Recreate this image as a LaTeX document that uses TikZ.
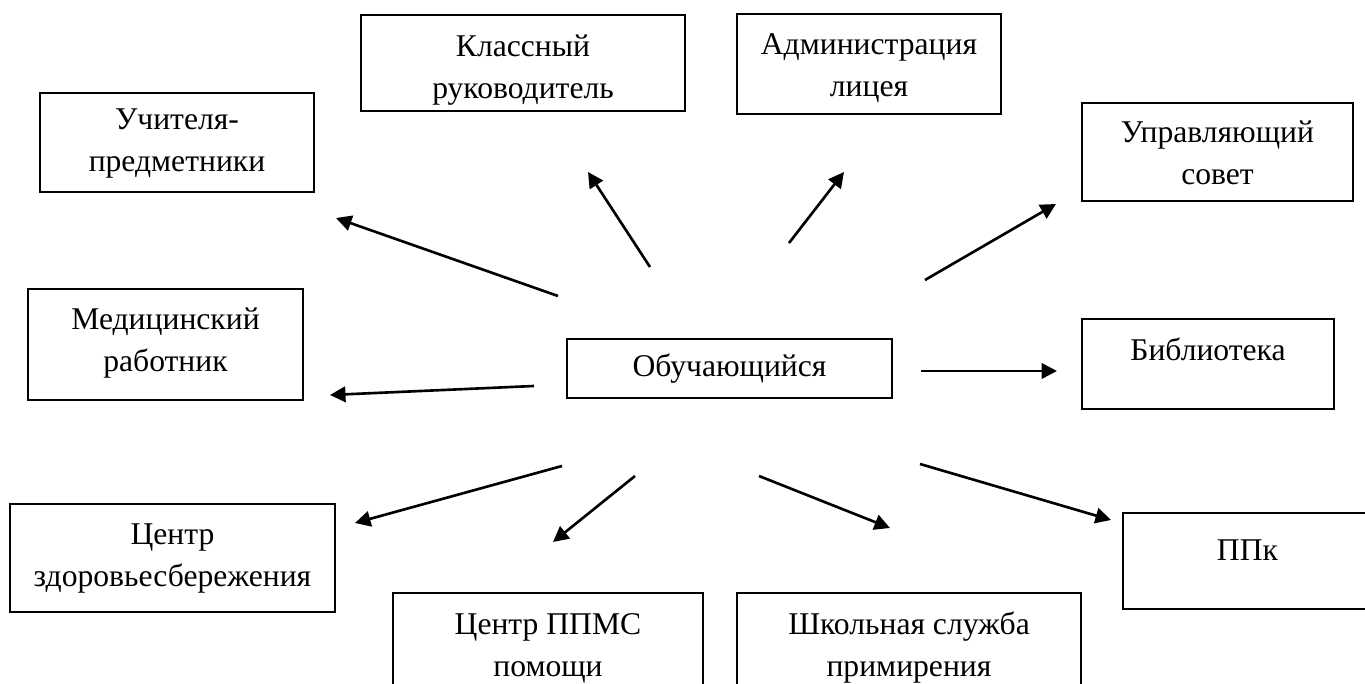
\documentclass[tikz,border=0pt]{standalone}
\usepackage{fontspec}
\setmainfont{Liberation Serif}
\usetikzlibrary{arrows.meta}

\tikzset{
    box/.style={draw, line width=0.9pt, align=center, inner sep=0pt,
        font=\fontsize{18}{24}\selectfont},
    arr/.style={-{Triangle[length=3.1mm,width=3.1mm]}, line width=1.5pt}
}

\begin{document}
\begin{tikzpicture}
    \useasboundingbox (0,0) rectangle (27.3,13.68);

    % Central box
    \node[box, minimum width=6.5cm, minimum height=1.18cm] (obu) at (14.59,6.31) {Обучающийся};

    % Upper row
    \node[box, minimum width=5.48cm, minimum height=1.98cm, text height=1.58cm, text depth=0.40cm] (uch) at (3.54,10.83) {Учителя-\\предметники};
    \node[box, minimum width=6.48cm, minimum height=1.92cm, text height=1.68cm, text depth=0.24cm] (kl) at (10.46,12.42) {Классный\\руководитель};
    \node[box, minimum width=5.28cm, minimum height=2.0cm, text height=1.66cm, text depth=0.34cm] (adm) at (17.38,12.40) {Администрация\\лицея};
    \node[box, minimum width=5.42cm, minimum height=1.96cm, text height=1.64cm, text depth=0.32cm] (upr) at (24.35,10.64) {Управляющий\\совет};

    % Middle row
    \node[box, minimum width=5.5cm, minimum height=2.22cm, text height=1.66cm, text depth=0.56cm] (med) at (3.31,6.79) {Медицинский\\работник};
    \node[box, minimum width=5.04cm, minimum height=1.8cm, text height=0.84cm, text depth=0.96cm] (bib) at (24.16,6.40) {Библиотека};

    % Lower row
    \node[box, minimum width=6.5cm, minimum height=2.16cm, text height=1.66cm, text depth=0.50cm] (zdr) at (3.45,2.52) {Центр\\здоровьесбережения};
    \node[box, minimum width=4.98cm, minimum height=1.92cm, text height=0.96cm, text depth=0.96cm] (ppk) at (24.95,2.46) {ППк};
    \node[box, minimum width=6.2cm, minimum height=2.14cm, text height=1.68cm, text depth=0.46cm] (ppms) at (10.96,0.75) {Центр ППМС\\помощи};
    \node[box, minimum width=6.88cm, minimum height=2.14cm, text height=1.68cm, text depth=0.46cm] (shk) at (18.18,0.75) {Школьная служба\\примирения};

    % Arrow ends
    \coordinate (uch-s) at (11.16,7.76);  \coordinate (uch-e) at (6.72,9.32);
    \coordinate (kl-s) at (13.00,8.34);   \coordinate (kl-e) at (11.76,10.24);
    \coordinate (adm-s) at (15.78,8.82);  \coordinate (adm-e) at (16.88,10.24);
    \coordinate (upr-s) at (18.50,8.08);  \coordinate (upr-e) at (21.12,9.60);
    \coordinate (med-s) at (10.68,5.96);  \coordinate (med-e) at (6.60,5.78);
    \coordinate (bib-s) at (18.42,6.26);  \coordinate (bib-e) at (21.14,6.26);
    \coordinate (zdr-s) at (11.24,4.36);  \coordinate (zdr-e) at (7.10,3.22);
    \coordinate (ppms-s) at (12.70,4.16); \coordinate (ppms-e) at (11.06,2.84);
    \coordinate (shk-s) at (15.18,4.16);  \coordinate (shk-e) at (17.80,3.12);
    \coordinate (ppk-s) at (18.40,4.40);  \coordinate (ppk-e) at (22.22,3.28);

    % Arrows from the student
    \foreach \n in {uch,kl,adm,upr,med,bib,zdr,ppms,shk,ppk}
        \draw[arr] (\n-s) -- (\n-e);

\end{tikzpicture}
\end{document}
